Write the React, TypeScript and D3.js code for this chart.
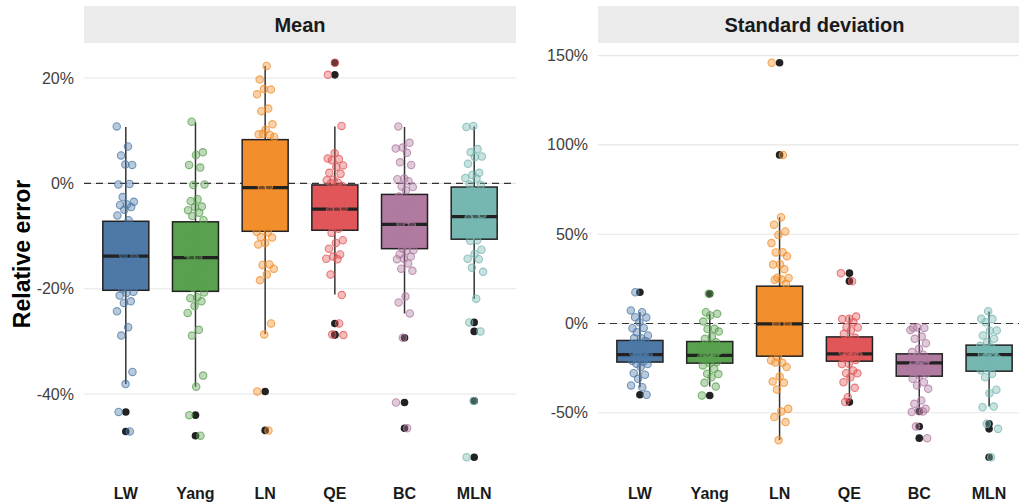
import React from 'react';
import * as d3 from 'd3';

const FONT = "'Liberation Sans', Arial, Helvetica, sans-serif";

const methods = ['LW', 'Yang', 'LN', 'QE', 'BC', 'MLN'];
const colors = ['#4e79a7', '#59a14f', '#f28e2b', '#e15759', '#b07aa1', '#76b7b2'];

const meanTicks = [-40, -20, 0, 20];
const sdTicks = [-50, 0, 50, 100, 150];

// box stats: [whisker low, q1, median, q3, whisker high]
const meanBoxes = [
  [-38.1, -20.3, -13.8, -7.2, 10.7],
  [-38.6, -20.5, -14.1, -7.3, 11.6],
  [-28.6, -9.1, -0.8, 8.3, 22.3],
  [-21.1, -8.9, -4.9, -0.3, 10.8],
  [-24.7, -12.4, -7.8, -2.1, 10.7],
  [-21.9, -10.6, -6.3, -0.7, 10.8],
];
const meanOutliers = [
  [-43.4, -47.1],
  [-44.0, -47.9],
  [-39.5, -46.9],
  [22.9, 20.6, -26.6, -28.7, -28.8],
  [-29.3, -41.6, -46.5],
  [-26.4, -28.1, -41.3, -52.0],
];
const meanPoints = [
  [10.8, 7.0, 5.3, 3.5, 3.6, -0.2, -0.1, -2.6, -3.5, -4.0, -4.1, -4.5, -5.0, -6.1, -7.0, -8.5, -9.6, -10.8, -11.9, -12.7, -13.6, -14.0, -14.9, -15.8, -16.7, -17.5, -18.4, -19.2, -20.0, -20.6, -20.8, -21.3, -22.4, -22.7, -24.3, -27.3, -28.9, -35.8, -38.1],
  [11.7, 5.9, 5.4, 3.5, 3.0, -0.3, -0.2, -3.0, -3.4, -4.4, -4.5, -5.1, -5.6, -6.2, -7.0, -8.3, -9.7, -11.0, -12.2, -13.3, -14.0, -14.3, -15.4, -16.6, -17.7, -18.9, -19.8, -20.7, -21.6, -21.8, -22.4, -23.3, -24.6, -27.8, -28.9, -36.5, -38.6],
  [22.3, 19.7, 17.8, 17.9, 16.9, 14.2, 13.7, 11.2, 10.2, 9.3, 9.2, 9.4, 8.8, 7.0, 5.2, 3.3, 1.6, 0.2, -0.6, -1.0, -2.3, -3.8, -5.3, -6.8, -8.2, -9.2, -9.3, -10.2, -10.3, -11.3, -11.6, -15.4, -15.5, -16.2, -17.3, -18.4, -26.6, -28.7],
  [10.9, 5.7, 4.7, 4.6, 4.4, 3.4, 3.1, 2.0, 1.8, 0.7, 0.6, 0.1, 0.0, -0.5, -1.3, -2.2, -3.0, -3.8, -4.6, -4.9, -5.2, -6.0, -6.9, -7.8, -8.6, -9.4, -10.8, -11.3, -12.4, -13.5, -13.9, -14.3, -14.4, -17.3, -21.2],
  [10.8, 7.7, 6.8, 6.6, 5.8, 4.0, 3.5, 0.9, 0.8, 0.4, -0.6, -0.7, -1.3, -2.5, -3.6, -4.7, -5.8, -6.9, -7.7, -8.0, -9.1, -10.2, -11.3, -12.3, -12.7, -12.8, -13.5, -13.9, -14.3, -14.4, -15.2, -16.2, -16.6, -21.5, -22.6, -24.7],
  [10.9, 10.7, 6.5, 5.9, 5.1, 5.0, 3.7, 2.0, 1.6, 1.0, 0.9, -0.2, -0.3, -1.5, -2.6, -3.7, -4.8, -5.9, -6.2, -6.6, -7.5, -8.6, -9.6, -10.8, -10.9, -12.6, -13.4, -14.3, -14.4, -16.0, -16.8, -21.9],
];

const sdBoxes = [
  [-35.7, -21.6, -17.4, -9.5, 6.3],
  [-35.3, -22.2, -17.9, -10.1, 5.4],
  [-65.3, -18.3, -0.2, 20.9, 59.5],
  [-41.3, -21.1, -17.0, -7.5, 3.9],
  [-48.7, -29.5, -22.0, -17.0, -2.4],
  [-46.5, -26.7, -17.4, -12.1, 6.7],
];
const sdOutliers = [
  [17.5, -39.9],
  [16.6, -40.3],
  [146.0, 94.4],
  [28.2, 23.7, -44.0],
  [-49.3, -57.7, -64.2],
  [-56.2, -59.0, -74.9],
];
const sdPoints = [
  [7.3, 6.3, 3.5, 3.4, 0.7, -2.6, -2.5, -4.9, -6.7, -8.2, -8.3, -9.8, -10.9, -11.8, -12.7, -13.6, -14.5, -15.3, -16.2, -16.9, -17.3, -17.6, -18.2, -18.9, -19.5, -20.1, -20.8, -21.4, -22.6, -22.7, -24.4, -27.8, -28.7, -31.0, -34.7, -35.7],
  [6.3, 5.4, 4.5, 1.1, -3.0, -3.1, -4.5, -7.3, -8.6, -10.5, -11.6, -12.7, -13.8, -14.8, -15.7, -16.5, -17.4, -17.8, -18.3, -19.0, -19.8, -20.6, -21.5, -22.3, -23.5, -25.4, -28.2, -28.3, -30.1, -33.2, -35.3],
  [59.5, 55.3, 51.5, 49.6, 45.0, 39.9, 39.8, 37.7, 33.2, 33.0, 30.4, 25.6, 25.5, 24.6, 24.5, 22.2, 15.0, 8.0, 3.0, 0.0, -0.4, -5.0, -10.0, -14.0, -18.9, -20.7, -22.0, -21.8, -24.4, -29.7, -32.5, -33.2, -37.0, -47.8, -49.3, -52.4, -55.2, -65.3],
  [3.9, 2.6, 2.5, 0.7, -2.1, -2.2, -3.9, -5.8, -8.0, -9.3, -10.6, -11.9, -13.0, -14.1, -15.0, -15.9, -16.8, -17.2, -17.8, -18.6, -19.5, -20.4, -22.6, -22.7, -26.3, -27.8, -27.9, -30.1, -32.9, -36.0, -41.3],
  [-2.4, -2.5, -2.3, -3.6, -7.3, -8.6, -11.0, -14.2, -16.0, -17.5, -18.6, -19.7, -20.8, -21.8, -22.3, -23.4, -24.6, -25.7, -26.9, -28.0, -29.1, -31.0, -32.9, -34.7, -36.6, -43.1, -45.0, -47.8, -48.7, -49.6],
  [6.9, 2.6, 2.5, 0.7, -3.9, -4.0, -6.7, -8.6, -10.5, -12.5, -13.4, -14.3, -15.2, -16.1, -17.0, -17.8, -18.7, -19.6, -20.9, -22.3, -23.6, -25.0, -26.2, -28.2, -30.1, -37.1, -39.0, -46.9, -46.5],
];

const panels = [
  { title: 'Mean', x0: 84, x1: 516, boxes: meanBoxes, outliers: meanOutliers, points: meanPoints, ticks: meanTicks },
  { title: 'Standard deviation', x0: 598, x1: 1031, boxes: sdBoxes, outliers: sdOutliers, points: sdPoints, ticks: sdTicks },
];

const PLOT_TOP = 43;
const PLOT_BOTTOM = 477;

function Panel({ p }: { p: any }) {
  const all = p.boxes.flat().concat(p.outliers.flat(), p.points.flat());
  const [lo, hi] = d3.extent(all) as [number, number];
  const pad = (hi - lo) * 0.05;
  const y = d3.scaleLinear().domain([lo - pad, hi + pad]).range([PLOT_BOTTOM, PLOT_TOP]);
  const x = d3.scalePoint<string>().domain(methods).range([p.x0, p.x1]).padding(0.6);
  const step = x.step();
  const bw = step * 0.66;
  const jw = step * 0.13;

  return (
    <g>
      <rect x={p.x0} y={6} width={p.x1 - p.x0} height={PLOT_TOP - 6} fill="#ebebeb" />
      <text x={(p.x0 + p.x1) / 2} y={25} textAnchor="middle" dominantBaseline="central"
        fontFamily={FONT} fontWeight="bold" fontSize={20} fill="#1a1a1a">{p.title}</text>
      {p.ticks.map((t: number) => (
        <g key={t}>
          <line x1={p.x0} x2={p.x1} y1={y(t)} y2={y(t)} stroke="#e6e6e6" strokeWidth={1.1} />
          <text x={p.x0 - 10} y={y(t)} textAnchor="end" dominantBaseline="central"
            fontFamily={FONT} fontSize={16} fill="#404040">{`${t}%`}</text>
        </g>
      ))}
      <line x1={p.x0} x2={p.x1} y1={y(0)} y2={y(0)} stroke="#333" strokeWidth={1.2} strokeDasharray="7,5" />
      {methods.map((m, g) => {
        const cx = x(m) as number;
        const [wl, q1, med, q3, wh] = p.boxes[g];
        return (
          <g key={m}>
            <line x1={cx} x2={cx} y1={y(wh)} y2={y(q3)} stroke="#333" strokeWidth={1.5} />
            <line x1={cx} x2={cx} y1={y(q1)} y2={y(wl)} stroke="#333" strokeWidth={1.5} />
            <rect x={cx - bw / 2} y={y(q3)} width={bw} height={y(q1) - y(q3)}
              fill={colors[g]} stroke="#222" strokeWidth={1.5} />
            <line x1={cx - bw / 2} x2={cx + bw / 2} y1={y(med)} y2={y(med)} stroke="#222" strokeWidth={3.2} />
            {p.outliers[g].map((v: number, i: number) => (
              <circle key={'o' + i} cx={cx} cy={y(v)} r={3.8} fill="#222" />
            ))}
          </g>
        );
      })}
      {methods.map((m, g) => {
        const cx = x(m) as number;
        const vals = p.points[g].concat(p.outliers[g]);
        return (
          <g key={'p' + m}>
            {vals.map((v: number, i: number) => {
              const off = (((i * 0.6180339 + g * 0.29) % 1) - 0.5) * 2 * jw;
              return (
                <circle key={i} cx={cx + off} cy={y(v)} r={3.7}
                  fill={colors[g]} fillOpacity={0.4} stroke={colors[g]} strokeOpacity={0.75} strokeWidth={1.1} />
              );
            })}
          </g>
        );
      })}
      {methods.map((m) => (
        <text key={'xl' + m} x={x(m) as number} y={493} textAnchor="middle" dominantBaseline="central"
          fontFamily={FONT} fontWeight="bold" fontSize={16} fill="#1a1a1a">{m}</text>
      ))}
    </g>
  );
}

export default function App() {
  return (
    <svg width={1019} height={504} style={{ position: 'absolute', left: 0, top: 0, background: '#fff' }}>
      <rect width={1019} height={504} fill="#fff" />
      {panels.map((p) => <Panel key={p.title} p={p} />)}
      <text transform="translate(22,254) rotate(-90)" textAnchor="middle" dominantBaseline="central"
        fontFamily={FONT} fontWeight="bold" fontSize={23} fill="#000">Relative error</text>
    </svg>
  );
}
